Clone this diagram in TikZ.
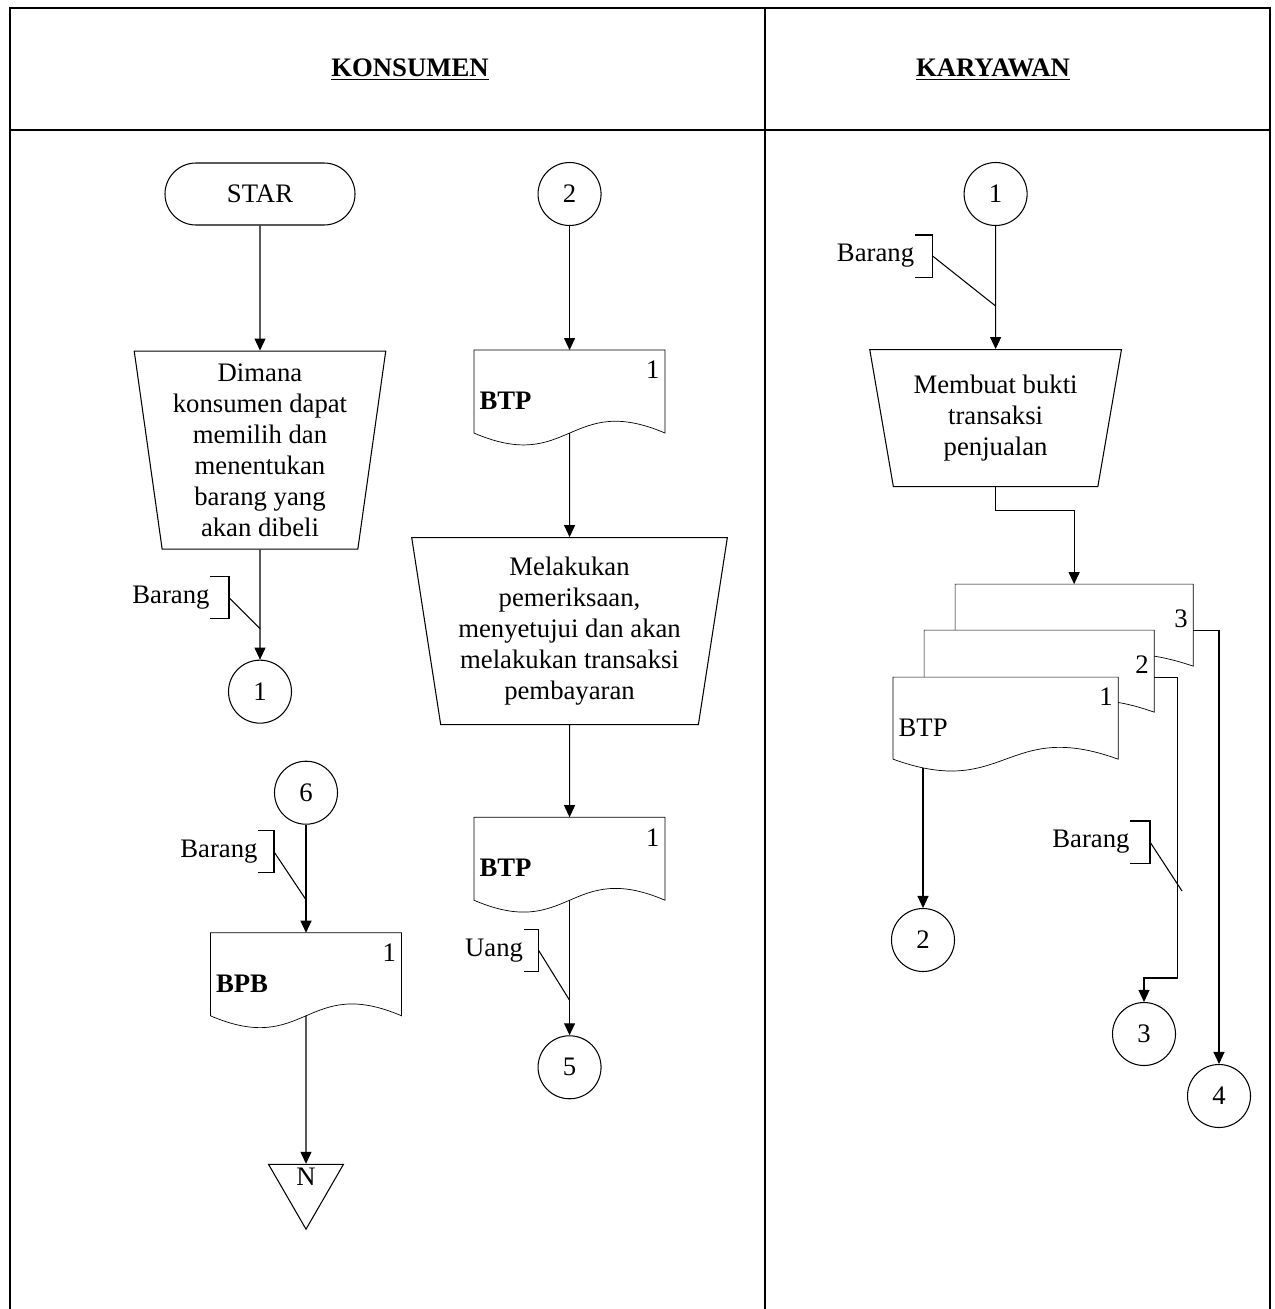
\documentclass[tikz,border=0pt]{standalone}
\usepackage{fontspec}
\setmainfont{Liberation Serif}
\usetikzlibrary{positioning,shapes.geometric,arrows.meta,backgrounds}

\begin{document}
\begin{tikzpicture}[x=0.2mm, y=0.2mm,
    font=\fontsize{15.2}{17.6}\selectfont,
    line width=0.6pt,
    >={Triangle[width=2.2mm,length=2.4mm]},
    startstop/.style={draw, rectangle, rounded corners=6.2mm, minimum width=38mm, minimum height=12.4mm},
    connect/.style={draw, circle, minimum size=12.6mm, inner sep=0pt},
    manualop/.style={draw, trapezium, shape border rotate=180, trapezium stretches=true, align=center, inner sep=0pt},
    docu/.style={rectangle, minimum width=38mm, minimum height=16.4mm, text width=36mm, text depth=8.6mm, align=left, inner sep=1mm},
    wave/.style={draw, fill=white},
    offpage/.style={draw, regular polygon, regular polygon sides=3, shape border rotate=180, minimum size=17.3mm, text height=0pt, inner sep=0pt},
    remark/.style={inner sep=0pt, minimum height=8.2mm}]
\useasboundingbox (0,0) rectangle (1274,-1309);

% lanes
\draw[line width=0.8pt] (10,-1309) -- (10,-8) -- (1270,-8) -- (1270,-1309);
\draw[line width=0.8pt] (10,-130) -- (1270,-130);
\draw[line width=0.8pt] (765,-8) -- (765,-1309);
\node (konsumen) at (410,-70) {\textbf{\underline{KONSUMEN}}};
\node (karyawan) at (993,-70) {\textbf{\underline{KARYAWAN}}};

% konsumen
\node[startstop] (star) at (260,-194) {STAR};
\node[manualop, below=25mm of star, trapezium left angle=81.8, trapezium right angle=81.8,
    minimum width=50.4mm, minimum height=39.6mm] (pilih) {Dimana\\konsumen dapat\\memilih dan\\menentukan\\barang yang\\akan dibeli};
\node[connect, below=22mm of pilih] (con1) {1};
\draw[->] (star) -- (pilih);
\draw[->] (pilih) -- (con1);
\coordinate[above=6.2mm of con1] (tap1);
\node[remark, anchor=east] (brg1) at ([xshift=-10mm, yshift=6.2mm]tap1) {Barang};
\draw (brg1.north east) -- ++(3.8mm,0) |- (brg1.south east);
\draw ([xshift=3.8mm]brg1.east) -- (tap1);

\node[connect, below=7.4mm of con1, xshift=9.2mm] (con6) {6};
\node[docu] (bpb) [below=21.6mm of con6] {\hfill 1\hspace*{1.6mm}\\\textbf{BPB}};
\node[offpage, below=29.6mm of bpb] (endn) {N};
\draw[->] (con6) -- (bpb);
\draw[->] (bpb.south) -- (endn);
\coordinate[above=6.6mm of bpb] (tap6);
\node[remark, anchor=east] (brg6) at ([xshift=-9.6mm, yshift=9.6mm]tap6) {Barang};
\draw (brg6.north east) -- ++(3.2mm,0) |- (brg6.south east);
\draw ([xshift=3.2mm]brg6.east) -- (tap6);

\node[connect, right=36.4mm of star] (con2) {2};
\node[docu, below=24.8mm of con2] (btpa) {\hfill 1\hspace*{1.6mm}\\\textbf{BTP}};
\node[manualop, below=20.8mm of btpa, trapezium left angle=80.4, trapezium right angle=80.4,
    minimum width=63.2mm, minimum height=37.4mm] (periksa) {Melakukan\\pemeriksaan,\\menyetujui dan akan\\melakukan transaksi\\pembayaran};
\node[docu, below=18.4mm of periksa] (btpb) {\hfill 1\hspace*{1.6mm}\\\textbf{BTP}};
\node[connect, below=27mm of btpb] (con5) {5};
\draw[->] (con2) -- (btpa);
\draw[->] (btpa.south) -- (periksa);
\draw[->] (periksa) -- (btpb);
\draw[->] (btpb.south) -- (con5);
\coordinate[above=7mm of con5] (tapu);
\node[remark, anchor=east] (uang) at ([xshift=-9.2mm, yshift=10mm]tapu) {Uang};
\draw (uang.north east) -- ++(3mm,0) |- (uang.south east);
\draw ([xshift=3mm]uang.east) -- (tapu);

% karyawan
\node[connect, right=72.4mm of con2] (conr1) {1};
\node[manualop, below=24.6mm of conr1, trapezium left angle=77.6, trapezium right angle=77.6,
    minimum width=50.4mm, minimum height=27.4mm] (bukti) {Membuat bukti\\transaksi\\penjualan};
\draw[->] (conr1) -- (bukti);
\coordinate[above=8.6mm of bukti] (tapr1);
\node[remark, anchor=east] (brgr1) at ([xshift=-16.2mm, yshift=10mm]tapr1) {Barang};
\draw (brgr1.north east) -- ++(3.6mm,0) |- (brgr1.south east);
\draw ([xshift=3.6mm]brgr1.east) -- (tapr1);

\node[docu, minimum width=47.4mm, text width=45.4mm, minimum height=16.2mm, text depth=2.6mm,
    below=19.4mm of bukti, xshift=15.7mm] (btp3) {\hfill 3\hspace*{1.6mm}};
\node[docu, minimum width=45.8mm, text width=43.8mm, minimum height=16.2mm, text depth=2.6mm,
    anchor=north west] (btp2) at ([shift={(-6.2mm,-9.2mm)}]btp3.north west) {\hfill 2\hspace*{1.6mm}};
\node[docu, minimum width=44.8mm, text width=42.8mm, minimum height=16.2mm,
    anchor=north west] (btp1) at ([shift={(-6.2mm,-9.4mm)}]btp2.north west) {\hfill 1\hspace*{1.6mm}\\BTP};
\draw[->] (bukti.south) -- ++(0,-4.6mm) -| (btp3.north);

\node[connect] (con2r) at (923,-940) {2};
\node[connect] (con3r) at (1144,-1034) {3};
\node[connect] (con4r) at (1219,-1096) {4};
\coordinate (out1) at (btp1.south -| con2r.north);
\draw[->] ([yshift=-1.8mm]out1) -- (con2r);
\draw[->] (btp2.east |- btp1.north) -- ++(4.6mm,0) |- ([yshift=4.8mm]con3r.north) -- (con3r);
\draw[->] (btp3.east |- btp2.north) -| (con4r.north);
\coordinate (tapr2) at (1182,-891);
\node[remark, anchor=east] (brgr2) at ([xshift=-10.4mm, yshift=9.8mm]tapr2) {Barang};
\draw (brgr2.north east) -- ++(4mm,0) |- (brgr2.south east);
\draw ([xshift=4mm]brgr2.east) -- (tapr2);

% document outlines, back to front
\begin{scope}[on background layer]
\draw[wave] (btpa.north west) -- (btpa.north east) -- (btpa.south east)
    .. controls ([yshift=8.2mm]btpa.south) and ([yshift=-8.2mm]btpa.south) .. (btpa.south west) -- cycle;
\draw[wave] (btpb.north west) -- (btpb.north east) -- (btpb.south east)
    .. controls ([yshift=8.2mm]btpb.south) and ([yshift=-8.2mm]btpb.south) .. (btpb.south west) -- cycle;
\draw[wave] (bpb.north west) -- (bpb.north east) -- (bpb.south east)
    .. controls ([yshift=8.2mm]bpb.south) and ([yshift=-8.2mm]bpb.south) .. (bpb.south west) -- cycle;
\draw[wave] (btp3.north west) -- (btp3.north east) -- (btp3.south east)
    .. controls ([yshift=8.2mm]btp3.south) and ([yshift=-8.2mm]btp3.south) .. (btp3.south west) -- cycle;
\draw[wave] (btp2.north west) -- (btp2.north east) -- (btp2.south east)
    .. controls ([yshift=8.2mm]btp2.south) and ([yshift=-8.2mm]btp2.south) .. (btp2.south west) -- cycle;
\draw[wave] (btp1.north west) -- (btp1.north east) -- (btp1.south east)
    .. controls ([yshift=8.2mm]btp1.south) and ([yshift=-8.2mm]btp1.south) .. (btp1.south west) -- cycle;
\end{scope}
\end{tikzpicture}
\end{document}
